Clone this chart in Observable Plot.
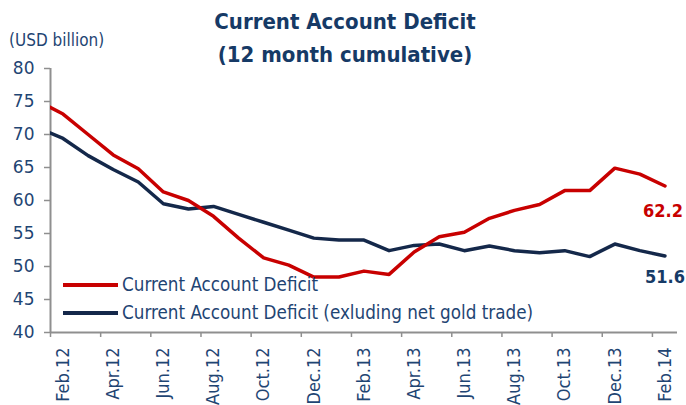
<!DOCTYPE html>
<html><head><meta charset="utf-8">
<script src="https://cdn.jsdelivr.net/npm/d3@7"></script>
<script src="https://cdn.jsdelivr.net/npm/@observablehq/plot@0.6"></script>
<style>
body{margin:0;background:#fff;}
#wrap{position:relative;width:686px;height:405px;overflow:hidden;font-family:"DejaVu Sans Condensed","DejaVu Sans",sans-serif;}
#wrap svg{position:absolute;left:0;top:0;}
.ov{position:absolute;white-space:nowrap;}
#title{left:2px;top:5px;width:686px;text-align:center;font-size:22px;font-weight:bold;line-height:33px;color:#163A66;}
#unit{left:9px;top:30px;font-size:17px;line-height:20px;color:#1F4573;}
.lg{left:63px;height:24px;line-height:24px;font-size:18.7px;color:#1F4573;}
.lg span{display:inline-block;width:55px;height:4px;vertical-align:middle;margin-right:4px;position:relative;top:-1px;}
</style></head><body>
<div id="wrap"></div>
<script>
const months = ["Jan.12","Feb.12","Mar.12","Apr.12","May.12","Jun.12","Jul.12","Aug.12","Sep.12","Oct.12","Nov.12","Dec.12",
  "Jan.13","Feb.13","Mar.13","Apr.13","May.13","Jun.13","Jul.13","Aug.13","Sep.13","Oct.13","Nov.13","Dec.13","Jan.14","Feb.14"];
const currentAccountDeficit = [75.1,73.1,70.0,66.9,64.8,61.3,60.0,57.6,54.3,51.3,50.2,48.4,
  48.4,49.3,48.8,52.2,54.5,55.2,57.3,58.5,59.4,61.5,61.5,64.9,64.0,62.2];
const deficitExGold = [71.0,69.4,66.8,64.7,62.8,59.5,58.7,59.1,57.9,56.7,55.5,54.3,
  54.0,54.0,52.4,53.2,53.4,52.4,53.1,52.4,52.1,52.4,51.5,53.4,52.4,51.6];
const tickLabels = ["Feb.12","Apr.12","Jun.12","Aug.12","Oct.12","Dec.12","Feb.13","Apr.13","Jun.13","Aug.13","Oct.13","Dec.13","Feb.14"];
const yTicks = [40,45,50,55,60,65,70,75,80];
const seriesNames = ["Current Account Deficit","Current Account Deficit (exluding net gold trade)"];
const colors = ["#C80000","#14284A"];

const red = months.map((m,k)=>({x:k-1, v:currentAccountDeficit[k]}));
const navy = months.map((m,k)=>({x:k-1, v:deficitExGold[k]}));
const xMin = -0.5, xMax = months.length - 1.5;
const tickIdx = tickLabels.map(l => months.indexOf(l) - 1);
const bounds = tickIdx.map(t => t - 0.5);
const lastRed = red[red.length-1], lastNavy = navy[navy.length-1];
const cond = "DejaVu Sans Condensed";
const txt = "#1F4573", axisGray = "#8F8F8F";

const chart = Plot.plot({
  width:686, height:405, marginTop:68, marginBottom:73, marginLeft:50, marginRight:9,
  x:{domain:[xMin,xMax], axis:null},
  y:{domain:[40,80], axis:null},
  style:{fontFamily:"DejaVu Sans", background:"transparent", overflow:"visible"},
  marks:[
    Plot.axisY({ticks:yTicks, label:null, tickSize:6, tickPadding:10, fontSize:17, fill:txt, stroke:axisGray, strokeWidth:1.5}),
    Plot.axisX({ticks:bounds, label:null, tickSize:5, tickFormat:()=>"", stroke:axisGray, strokeWidth:1.5}),
    Plot.axisX({ticks:tickIdx, label:null, tickSize:0, tickPadding:15, rotate:-90, textAnchor:"end", lineAnchor:"middle",
      tickFormat:i=>months[i+1], fontSize:18, fontFamily:cond, fill:txt}),
    Plot.ruleX([xMin], {stroke:axisGray, strokeWidth:2}),
    Plot.ruleY([40], {stroke:axisGray, strokeWidth:2}),
    Plot.line(navy, {x:"x", y:"v", stroke:colors[1], strokeWidth:3.5, clip:true}),
    Plot.line(red, {x:"x", y:"v", stroke:colors[0], strokeWidth:3.5, clip:true}),
    Plot.text([lastRed], {x:"x", y:"v", text:d=>d.v.toFixed(1), dy:25, dx:-2, fill:colors[0], fontWeight:"bold", fontSize:18, fontFamily:cond}),
    Plot.text([lastNavy], {x:"x", y:"v", text:d=>d.v.toFixed(1), dy:21, dx:0, fill:"#163A66", fontWeight:"bold", fontSize:18, fontFamily:cond})
  ]
});
const wrap = document.getElementById("wrap");
wrap.appendChild(chart);
wrap.insertAdjacentHTML("beforeend",
  `<div id="title" class="ov">Current Account Deficit<br>(12 month cumulative)</div>
   <div id="unit" class="ov">(USD billion)</div>
   <div class="ov lg" style="top:273px"><span style="background:${colors[0]}"></span>${seriesNames[0]}</div>
   <div class="ov lg" style="top:301px"><span style="background:${colors[1]}"></span>${seriesNames[1]}</div>`);
</script>
</body></html>
